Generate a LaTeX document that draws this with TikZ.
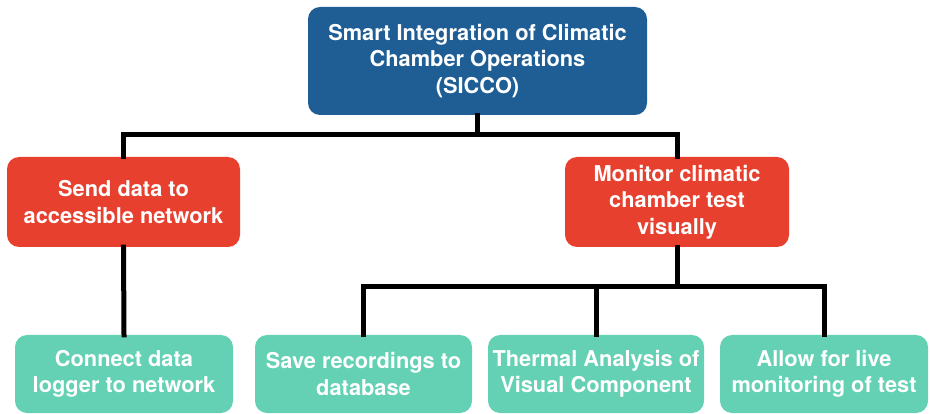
\documentclass[tikz,border=0pt]{standalone}
\usepackage{fontspec}
\setmainfont{TeX Gyre Heros}
\definecolor{topblue}{HTML}{1F5E94}
\definecolor{boxred}{HTML}{E8402F}
\definecolor{boxgreen}{HTML}{64D1B4}
\begin{document}
\begin{tikzpicture}[x=1pt,y=-1pt,
  box/.style={rectangle, rounded corners=12pt, draw=none, text=white, align=center,
    font=\fontsize{21.8}{26.5}\selectfont\bfseries, inner sep=0pt},
  conn/.style={line width=5pt, black, line join=miter, line cap=rect}]
\useasboundingbox (0,0) rectangle (930,414);
\node[box, fill=topblue, minimum width=339pt, minimum height=108pt] (top) at (477.5,61)
  {Smart Integration of Climatic\\Chamber Operations\\(SICCO)};
\node[box, fill=boxred, minimum width=233pt, minimum height=90pt] (L) at (123.5,202)
  {Send data to\\accessible network};
\node[box, fill=boxred, minimum width=224pt, minimum height=90pt] (R) at (677,202)
  {Monitor climatic\\chamber test\\visually};
\node[box, fill=boxgreen, minimum width=218pt, minimum height=78pt] (C) at (124,374)
  {Connect data\\logger to network};
\node[box, fill=boxgreen, minimum width=217pt, minimum height=78pt] (S) at (363.5,374)
  {Save recordings to\\database};
\node[box, fill=boxgreen, minimum width=216pt, minimum height=78pt] (T) at (596,374)
  {Thermal Analysis of\\Visual Component};
\node[box, fill=boxgreen, minimum width=208pt, minimum height=78pt] (A) at (824,374)
  {Allow for live\\monitoring of test};
\coordinate (h1) at (0,135);
\coordinate (h2) at (0,287);
\draw[conn] (top.south) -- (top.south |- h1);
\draw[conn] (L.north) -- (L.north |- h1) -- (R.north |- h1) -- (R.north);
\draw[conn] (L.south) -- (C.north);
\draw[conn] (R.south) -- (R.south |- h2);
\draw[conn] (S.north) -- (S.north |- h2) -- (A.north |- h2) -- (A.north);
\draw[conn] (T.north |- h2) -- (T.north);
\end{tikzpicture}
\end{document}
